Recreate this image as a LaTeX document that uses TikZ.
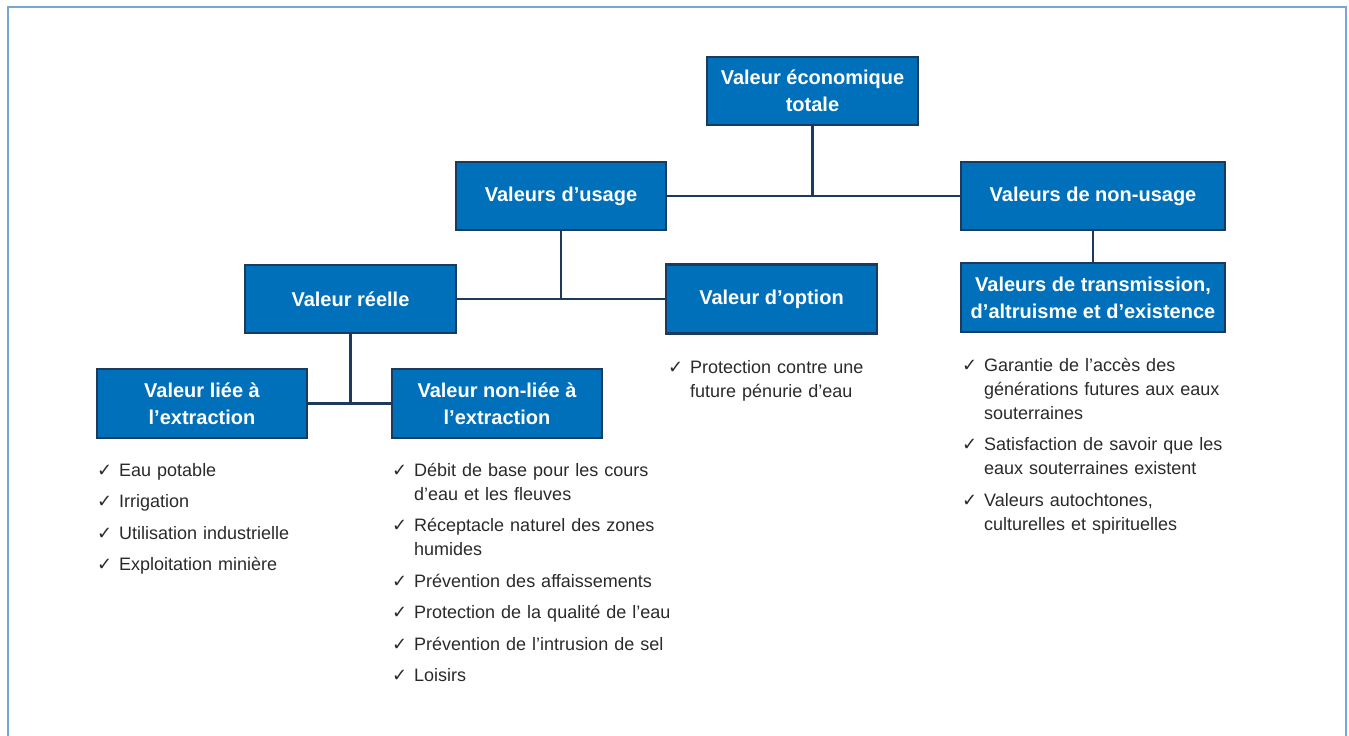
\documentclass[tikz,border=0pt]{standalone}
\usepackage{fontspec}
\setmainfont{Liberation Sans}
\newfontfamily\symfont{DejaVu Sans}
\usetikzlibrary{backgrounds}
\definecolor{boxblue}{HTML}{0070BA}
\definecolor{navy}{HTML}{1B3A5C}
\definecolor{framecol}{HTML}{78A6D4}
\definecolor{txt}{HTML}{2A2A2A}
\newcommand{\ck}{\makebox[22pt][l]{\fontsize{18}{18}\symfont ✓}}
\newcommand{\itm}[1]{\hangindent=22pt\hangafter=1\noindent\strut\ck #1\par\vskip 7.5pt}
\newcommand{\listfont}{\fontsize{18}{24}\selectfont\spaceskip=4.5pt plus 2pt minus 1pt\relax}
\tikzset{
  vbox/.style={draw=navy, line width=2.5pt, fill=boxblue, text=white,
    font=\fontsize{20}{27}\selectfont\bfseries, align=center, inner sep=0pt},
  listtxt/.style={text width=330pt, align=left, inner sep=0pt, anchor=north west,
    font=\listfont, text=txt},
  conn/.style={draw=navy, line width=2.5pt},
  frame/.style={draw=framecol, line width=1.5pt}
}
\begin{document}
\begin{tikzpicture}[x=1pt,y=-1pt]
\useasboundingbox (0,0) rectangle (1349,736);
\draw[frame] (8,7) rectangle (1346,760);

\node[vbox, minimum width=211pt, minimum height=68pt] (top) at (812.5,91) {Valeur économique\\totale};
\node[vbox, minimum width=210pt, minimum height=68pt] (usage) at (561,196) {Valeurs d’usage};
\node[vbox, minimum width=264pt, minimum height=68pt] (nonusage) at (1093,196) {Valeurs de non-usage};
\node[vbox, minimum width=211pt, minimum height=68pt] (reelle) at (350.5,299) {Valeur réelle};
\node[vbox, minimum width=211pt, minimum height=69pt] (option) at (771.5,299) {Valeur d’option};
\node[vbox, minimum width=264pt, minimum height=69pt] (trans) at (1093,297.5) {Valeurs de transmission,\\d’altruisme et d’existence};
\node[vbox, minimum width=210pt, minimum height=69pt] (liee) at (202,403.5) {Valeur liée à\\l’extraction};
\node[vbox, minimum width=210pt, minimum height=69pt] (nonliee) at (497,403.5) {Valeur non-liée à\\l’extraction};

\begin{scope}[on background layer]
\draw[conn] (usage.east) -- (nonusage.west);
\draw[conn] (top.south) -- (top.south |- usage.east);
\draw[conn] (reelle.east) -- (option.west);
\draw[conn] (usage.south) -- (usage.south |- reelle.east);
\draw[conn] (liee.east) -- (nonliee.west);
\draw[conn] (reelle.south) -- (reelle.south |- liee.east);
\draw[conn] (nonusage.south) -- (trans.north);
\end{scope}

\node[listtxt] (l1) at (97,459.2) {%
\itm{Eau potable}
\itm{Irrigation}
\itm{Utilisation industrielle}
\itm{Exploitation minière}};

\node[listtxt] (l2) at (392,459.2) {%
\itm{Débit de base pour les cours\newline d’eau et les fleuves}
\itm{Réceptacle naturel des zones\newline humides}
\itm{Prévention des affaissements}
\itm{Protection de la qualité de l’eau}
\itm{Prévention de l’intrusion de sel}
\itm{Loisirs}};

\node[listtxt] (l3) at (668,356.2) {%
\itm{Protection contre une\newline future pénurie d’eau}};

\node[listtxt] (l4) at (962,354.2) {%
\itm{Garantie de l’accès des\newline générations futures aux eaux\newline souterraines}
\itm{Satisfaction de savoir que les\newline eaux souterraines existent}
\itm{Valeurs autochtones,\newline culturelles et spirituelles}};
\end{tikzpicture}
\end{document}
